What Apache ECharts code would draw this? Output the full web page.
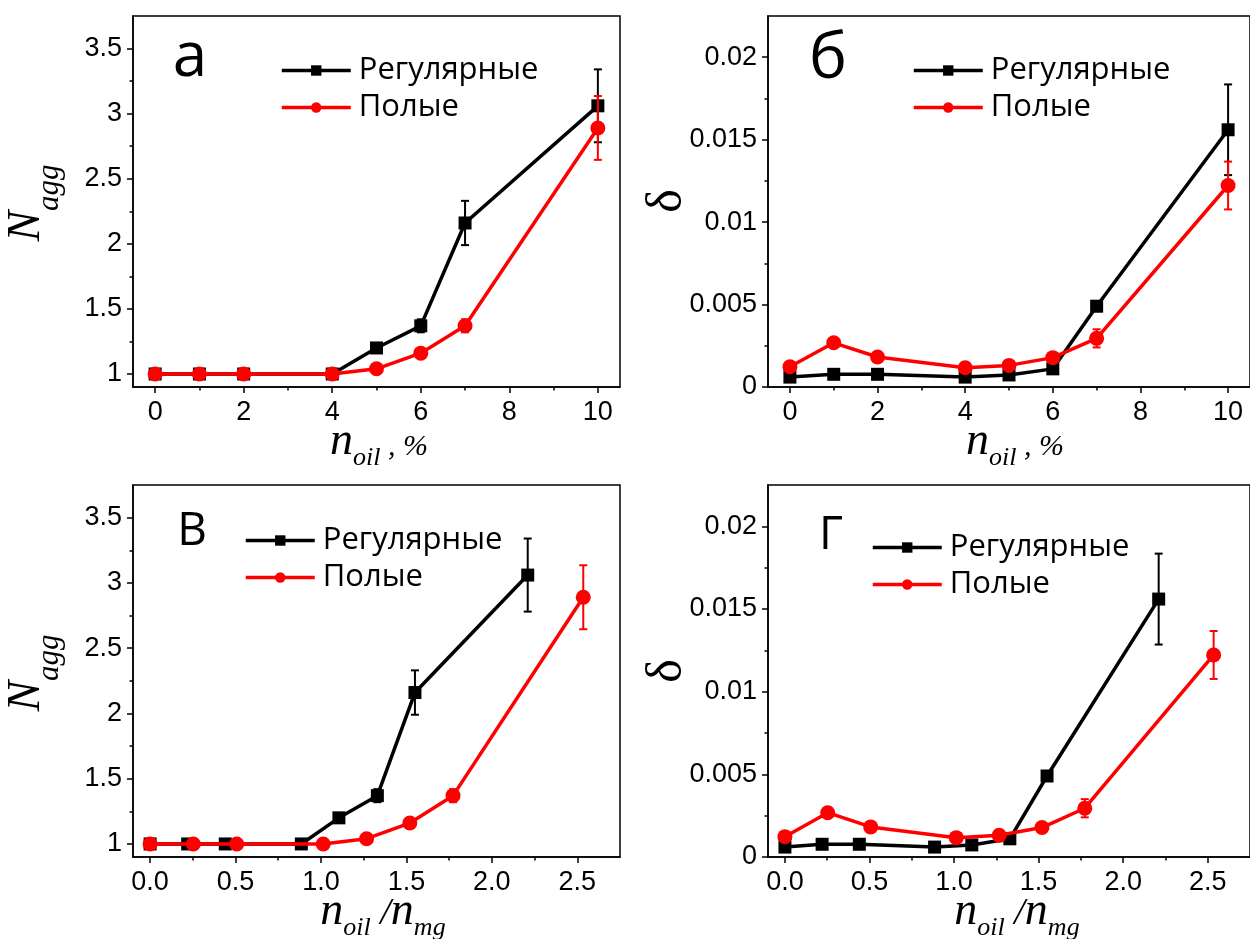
<!DOCTYPE html>
<html><head><meta charset="utf-8">
<script src="https://cdn.jsdelivr.net/npm/echarts@6/dist/echarts.min.js"></script>
<style>html,body{margin:0;padding:0;background:#fff}#c{width:1250px;height:939px}</style>
</head><body><div id="c"></div>
<script>
// ---------- data ----------
const seriesNames = ['Регулярные', 'Полые'];
const panelLetters = ['а', 'б', 'В', 'Г'];

const nOil = [0, 1, 2, 4, 5, 6, 7, 10];                                   // %
const ratioReg = [0, 0.22, 0.44, 0.885, 1.105, 1.33, 1.55, 2.21];         // n_oil/n_mg, регулярные
const ratioHol = [0, 0.253, 0.507, 1.013, 1.267, 1.52, 1.773, 2.535];     // n_oil/n_mg, полые

const naggReg    = [1, 1, 1, 1, 1.20, 1.37, 2.16, 3.06];
const naggRegErr = [0, 0, 0, 0, 0.03, 0.05, 0.17, 0.28];
const naggHol    = [1, 1, 1, 1, 1.04, 1.16, 1.37, 2.89];
const naggHolErr = [0, 0, 0, 0, 0.01, 0.03, 0.05, 0.245];

const deltaReg    = [0.0006, 0.00077, 0.00077, 0.0006, 0.00073, 0.0011, 0.0049, 0.0156];
const deltaRegErr = [0.0001, 0.0001, 0.0001, 0.0001, 0.0001, 0.0002, 0.0003, 0.00275];
const deltaHol    = [0.00123, 0.00268, 0.00182, 0.00117, 0.00131, 0.00178, 0.00295, 0.01222];
const deltaHolErr = [0, 0, 0, 0, 0, 0, 0.00055, 0.00145];

const yTicksN  = [1, 1.5, 2, 2.5, 3, 3.5];
const yMinorN  = [1.25, 1.75, 2.25, 2.75, 3.25];
const yTicksD  = [0, 0.005, 0.01, 0.015, 0.02];
const yMinorD  = [0.0025, 0.0075, 0.0125, 0.0175];
const xTicksPct = [0, 2, 4, 6, 8, 10];
const xMinorPct = [1, 3, 5, 7, 9];
const xTicksRatio = [0, 0.5, 1, 1.5, 2, 2.5];
const xMinorRatio = [0.25, 0.75, 1.25, 1.75, 2.25];

// ---------- layout ----------
const BLACK = '#000000', RED = '#ff0000';
const TICK_FONT = 'Liberation Sans, Arial, sans-serif';
const LEG_FONT = 'Open Sans, sans-serif';
const SERIF = 'Liberation Serif, Times New Roman, serif';

const panels = [
  { grid: {left: 133, top: 16, width: 487, height: 371},
    x: {min: -0.5, max: 10.5, ticks: xTicksPct, minor: xMinorPct, fmt: v => String(v)},
    y: {min: 0.9, max: 3.75, ticks: yTicksN, minor: yMinorN},
    reg: [nOil, naggReg, naggRegErr], hol: [nOil, naggHol, naggHolErr],
    legend: {left: 280, top: 55} },
  { grid: {left: 768, top: 16, width: 487, height: 371},
    x: {min: -0.5, max: 10.5, ticks: xTicksPct, minor: xMinorPct, fmt: v => String(v)},
    y: {min: 0, max: 0.0225, ticks: yTicksD, minor: yMinorD},
    reg: [nOil, deltaReg, deltaRegErr], hol: [nOil, deltaHol, deltaHolErr],
    legend: {left: 912, top: 55} },
  { grid: {left: 133, top: 485, width: 487, height: 372},
    x: {min: -0.1, max: 2.75, ticks: xTicksRatio, minor: xMinorRatio, fmt: v => v.toFixed(1)},
    y: {min: 0.9, max: 3.75, ticks: yTicksN, minor: yMinorN},
    reg: [ratioReg, naggReg, naggRegErr], hol: [ratioHol, naggHol, naggHolErr],
    legend: {left: 244, top: 525} },
  { grid: {left: 768, top: 485, width: 487, height: 372},
    x: {min: -0.1, max: 2.75, ticks: xTicksRatio, minor: xMinorRatio, fmt: v => v.toFixed(1)},
    y: {min: 0, max: 0.0225, ticks: yTicksD, minor: yMinorD},
    reg: [ratioReg, deltaReg, deltaRegErr], hol: [ratioHol, deltaHol, deltaHolErr],
    legend: {left: 871, top: 532} }
];

const grids = [], xAxes = [], yAxes = [], series = [], legends = [];
const lineAxis = {show: true, onZero: false, lineStyle: {color: BLACK, width: 1.5}};
const noLine = {show: false, onZero: false};
const tickStyle = {color: BLACK, width: 1.5};

function errRender(color) {
  return function (params, api) {
    const x = api.value(0), y = api.value(1), e = api.value(2);
    if (!e) return null;
    const p1 = api.coord([x, y + e]), p2 = api.coord([x, y - e]);
    const w = 4, style = {stroke: color, lineWidth: 2};
    return {type: 'group', children: [
      {type: 'line', shape: {x1: p1[0], y1: p1[1], x2: p2[0], y2: p2[1]}, style: style},
      {type: 'line', shape: {x1: p1[0] - w, y1: p1[1], x2: p1[0] + w, y2: p1[1]}, style: style},
      {type: 'line', shape: {x1: p2[0] - w, y1: p2[1], x2: p2[0] + w, y2: p2[1]}, style: style}
    ]};
  };
}

panels.forEach((p, i) => {
  grids.push(Object.assign({show: true, borderColor: BLACK, borderWidth: 1.5, backgroundColor: 'transparent'}, p.grid));
  // main x
  xAxes.push({type: 'value', gridIndex: i, position: 'bottom', min: p.x.min, max: p.x.max,
    axisLine: lineAxis, splitLine: {show: false},
    axisTick: {show: true, inside: false, length: 6, lineStyle: tickStyle, customValues: p.x.ticks},
    axisLabel: {customValues: p.x.ticks, formatter: p.x.fmt, color: BLACK, fontFamily: TICK_FONT, fontSize: 27, margin: 12}});
  // minor x
  xAxes.push({type: 'value', gridIndex: i, position: 'bottom', min: p.x.min, max: p.x.max,
    axisLine: noLine, splitLine: {show: false}, axisLabel: {show: false},
    axisTick: {show: true, inside: false, length: 3.5, lineStyle: tickStyle, customValues: p.x.minor}});
  // main y
  yAxes.push({type: 'value', gridIndex: i, position: 'left', min: p.y.min, max: p.y.max,
    axisLine: lineAxis, splitLine: {show: false},
    axisTick: {show: true, inside: false, length: 6, lineStyle: tickStyle, customValues: p.y.ticks},
    axisLabel: {customValues: p.y.ticks, formatter: v => String(v), color: BLACK, fontFamily: TICK_FONT, fontSize: 27, margin: 11}});
  // minor y
  yAxes.push({type: 'value', gridIndex: i, position: 'left', min: p.y.min, max: p.y.max,
    axisLine: noLine, splitLine: {show: false}, axisLabel: {show: false},
    axisTick: {show: true, inside: false, length: 3.5, lineStyle: tickStyle, customValues: p.y.minor}});

  const xi = 2 * i, yi = 2 * i;
  const defs = [
    {name: seriesNames[0], d: p.reg, color: BLACK, symbol: 'rect', size: 13},
    {name: seriesNames[1], d: p.hol, color: RED, symbol: 'circle', size: 15}
  ];
  defs.forEach((s, k) => {
    series.push({type: 'line', name: s.name, xAxisIndex: xi, yAxisIndex: yi,
      data: s.d[0].map((x, j) => [x, s.d[1][j]]),
      symbol: s.symbol, symbolSize: s.size, showSymbol: true,
      lineStyle: {color: s.color, width: 3.5}, itemStyle: {color: s.color},
      z: 3 + k, animation: false, clip: false});
    series.push({type: 'custom', xAxisIndex: xi, yAxisIndex: yi,
      data: s.d[0].map((x, j) => [x, s.d[1][j], s.d[2][j]]),
      encode: {x: 0, y: 1}, renderItem: errRender(s.color), z: 3 + k, animation: false, silent: true});
  });

  legends.push({left: p.legend.left, top: p.legend.top, orient: 'vertical', padding: 0,
    itemWidth: 69, itemHeight: 13, itemGap: 6, selectedMode: false, data: seriesNames,
    lineStyle: {width: 3.5},
    textStyle: {fontFamily: LEG_FONT, fontSize: 31, color: BLACK, padding: [0, 0, 0, 3]}});
});

// ---------- titles (graphic) ----------
const mctx = document.createElement('canvas').getContext('2d');
function fontStr(p) { return (p.italic === false ? '' : 'italic ') + p.size + 'px ' + (p.family || SERIF); }
function titleGroup(pieces, cx, base, rot) {
  let total = 0;
  const ws = pieces.map(p => { mctx.font = fontStr(p); const w = mctx.measureText(p.t).width; total += w; return w; });
  let x = -total / 2;
  const children = pieces.map((p, k) => {
    const el = {type: 'text', x: x, y: (p.dy || 0) - 0.33 * p.size,
      style: {text: p.t, fontSize: p.size, fontFamily: p.family || SERIF, fontStyle: p.italic === false ? 'normal' : 'italic',
        fill: BLACK, textAlign: 'left', textVerticalAlign: 'middle'}};
    x += ws[k];
    return el;
  });
  return {type: 'group', x: cx, y: base, rotation: rot || 0, children: children};
}
const nAggPieces = [{t: 'N', size: 46}, {t: 'agg', size: 31, dy: 18}];
const deltaPieces = [{t: 'δ', size: 50, italic: false}];
const xPctPieces = [{t: 'n', size: 46}, {t: 'oil', size: 26, dy: 10}, {t: ' , %', size: 30}];
const xRatioPieces = [{t: 'n', size: 46}, {t: 'oil', size: 26, dy: 10}, {t: ' /', size: 38}, {t: 'n', size: 46}, {t: 'mg', size: 26, dy: 10}];

const graphics = [
  titleGroup(nAggPieces, 42, 203, Math.PI / 2),
  titleGroup(deltaPieces, 684, 201, Math.PI / 2),
  titleGroup(nAggPieces, 42, 673, Math.PI / 2),
  titleGroup(deltaPieces, 684, 671, Math.PI / 2),
  titleGroup(xPctPieces, 379, 457, 0),
  titleGroup(xPctPieces, 1015, 457, 0),
  titleGroup(xRatioPieces, 383, 927, 0),
  titleGroup(xRatioPieces, 1017, 927, 0)
];
const letterPos = [[190, 81, 62], [828, 83, 64], [192, 548, 46], [831, 552, 46]];
panelLetters.forEach((L, i) => {
  const [cx, base, size] = letterPos[i];
  graphics.push({type: 'text', x: cx, y: base - 0.36 * size,
    style: {text: L, fontSize: size, fontFamily: LEG_FONT, fill: BLACK, textAlign: 'center', textVerticalAlign: 'middle'}});
});

const chart = echarts.init(document.getElementById('c'), null, {renderer: 'canvas'});
chart.setOption({
  animation: false, backgroundColor: '#ffffff',
  grid: grids, xAxis: xAxes, yAxis: yAxes, series: series, legend: legends, graphic: graphics
});
</script></body></html>
